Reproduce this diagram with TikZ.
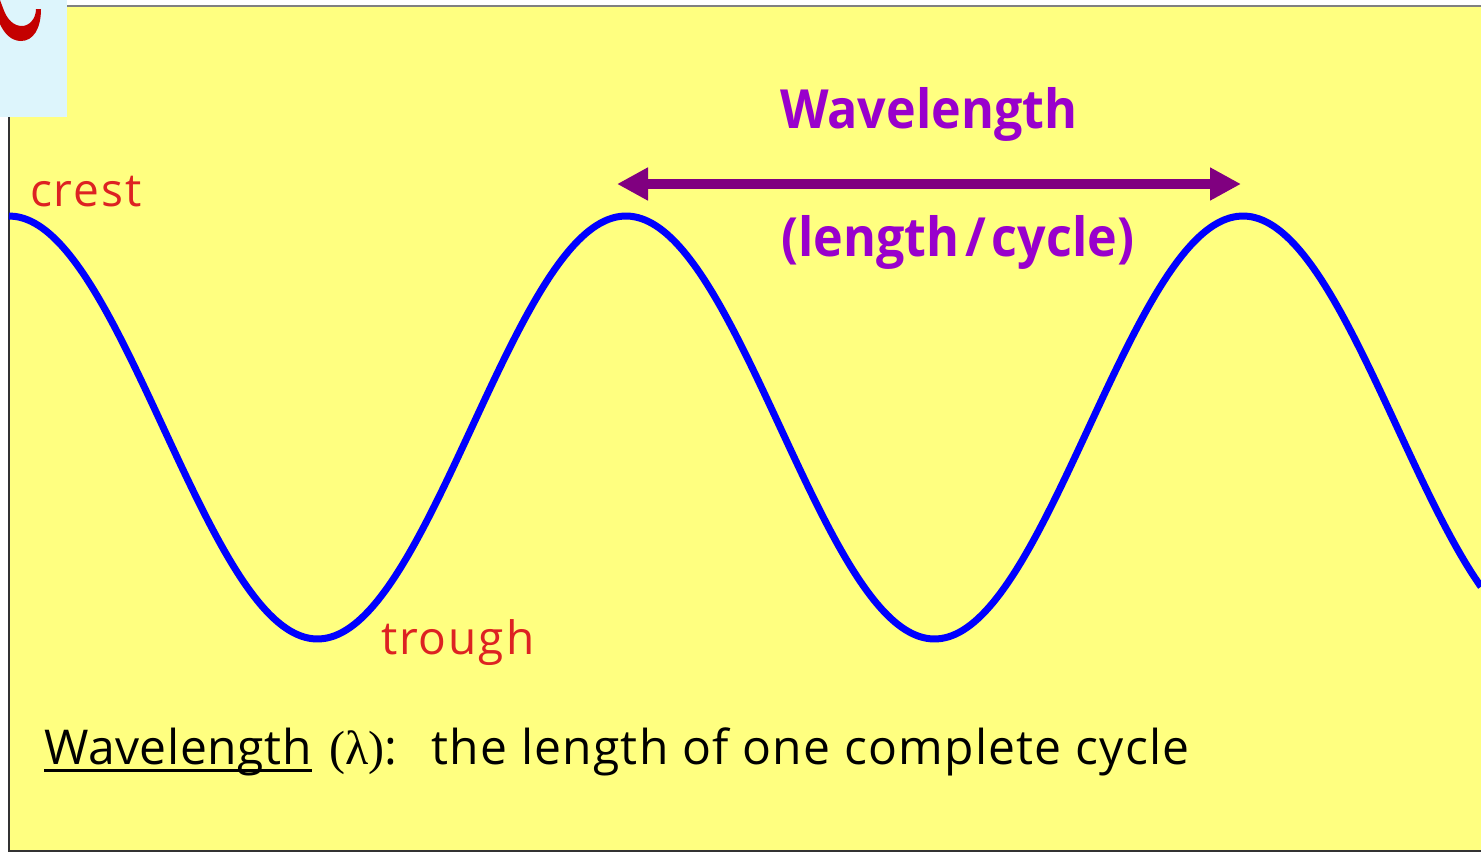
\documentclass[tikz,border=0pt]{standalone}
\usepackage{fontspec}
\setmainfont{Open Sans}
\newfontfamily\lamfont{Liberation Serif}
\newfontfamily\titlefont[FakeStretch=0.93]{Open Sans}
\newfontfamily\spacedfont[LetterSpace=2.6]{Open Sans}
\newfontfamily\termfont[LetterSpace=1.2]{Open Sans}
\newfontfamily\redfont[LetterSpace=4.3]{Open Sans}
\usetikzlibrary{arrows.meta}
\definecolor{paper}{HTML}{FFFF80}
\definecolor{tabblue}{HTML}{DDF5FC}
\definecolor{logored}{HTML}{C40000}
\definecolor{labelred}{HTML}{DD2222}
\definecolor{titlepurple}{HTML}{9900CC}
\definecolor{arrowpurple}{HTML}{800080}
\definecolor{waveblue}{HTML}{0000FF}
\newcommand{\ulword}[1]{\setbox0\hbox{#1}\rlap{\rule[-7.5pt]{\wd0}{2.7pt}}\box0\relax}
\tikzset{
  lbl/.style={inner sep=0pt,outer sep=0pt,anchor=base west},
  redlabel/.style={lbl,text=labelred,font=\redfont\fontsize{46}{50}\selectfont},
  titlelabel/.style={lbl,text=titlepurple,font=\titlefont\bfseries\fontsize{54}{60}\selectfont},
  span/.style={draw=arrowpurple,line width=10pt,{Triangle[length=31pt,width=31pt]}-{Triangle[length=31pt,width=31pt]}}
}
\begin{document}
\begin{tikzpicture}[x=1pt,y=-1pt]
\useasboundingbox (0,0) rectangle (1481,852);
\fill[white] (0,0) rectangle (1481,852);
\fill[paper] (9,6) rectangle (1481,851);
\draw[line width=1.2pt,draw=gray] (9,6) -- (1481,6);
\draw[line width=1.2pt,draw=black!80] (9,6) -- (9,851) -- (1481,851);
\fill[tabblue] (0,0) rectangle (67,117);
\fill[logored] (0,0) -- (3,8) .. controls (7,20) and (14,26) .. (22,26)
  .. controls (29,26) and (36,19) .. (36,9) -- (41,9)
  .. controls (41,29) and (33,41) .. (21,41)
  .. controls (11,41) and (4,33) .. (0,24) -- cycle;
\draw[waveblue,line width=7pt,domain=9:1481,samples=200,smooth,line join=round]
  plot (\x,{427.5-211.5*cos(0.58347*(\x-9))});
\coordinate (arrowL) at (617,184);
\coordinate (arrowR) at (1241,184);
\draw[span] (arrowL) -- (arrowR);
\node[titlelabel] (title) at (780,128) {Wavelength};
\node[titlelabel] (unit) at (781,256) {(length\hspace{6pt}/\hspace{6pt}cycle)};
\node[redlabel] (crest) at (30,206) {crest};
\node[redlabel] (trough) at (381,654) {trough};
\node[lbl,font=\spacedfont\fontsize{48}{52}\selectfont] (def) at (44,764)
  {\ulword{\termfont Wavelength}\hspace{18pt}{\lamfont (λ)}:\hspace{34pt}the length of one complete cycle};
\end{tikzpicture}
\end{document}
